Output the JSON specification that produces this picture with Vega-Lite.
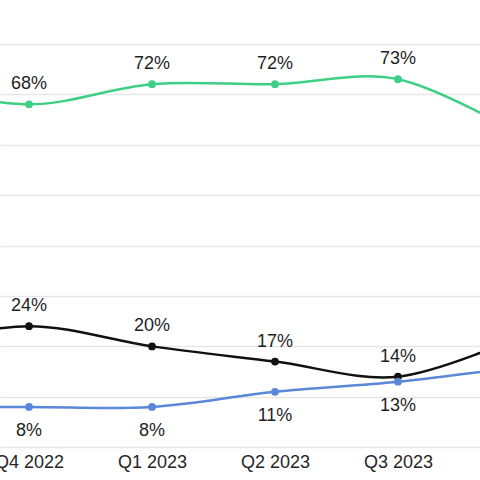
{
  "$schema": "https://vega.github.io/schema/vega-lite/v6.json",
  "width": 480,
  "height": 480,
  "autosize": "none",
  "padding": 0,
  "background": "white",
  "config": {"view": {"stroke": null}, "font": "Liberation Sans"},
  "data": {"values": [
    {"i": 0, "quarter": "Q3 2022", "series": "A", "v": 0.72},
    {"i": 1, "quarter": "Q4 2022", "series": "A", "v": 0.68},
    {"i": 2, "quarter": "Q1 2023", "series": "A", "v": 0.72},
    {"i": 3, "quarter": "Q2 2023", "series": "A", "v": 0.72},
    {"i": 4, "quarter": "Q3 2023", "series": "A", "v": 0.73},
    {"i": 5, "quarter": "Q4 2023", "series": "A", "v": 0.62},
    {"i": 0, "quarter": "Q3 2022", "series": "B", "v": 0.20},
    {"i": 1, "quarter": "Q4 2022", "series": "B", "v": 0.24},
    {"i": 2, "quarter": "Q1 2023", "series": "B", "v": 0.20},
    {"i": 3, "quarter": "Q2 2023", "series": "B", "v": 0.17},
    {"i": 4, "quarter": "Q3 2023", "series": "B", "v": 0.14},
    {"i": 5, "quarter": "Q4 2023", "series": "B", "v": 0.22},
    {"i": 0, "quarter": "Q3 2022", "series": "C", "v": 0.08},
    {"i": 1, "quarter": "Q4 2022", "series": "C", "v": 0.08},
    {"i": 2, "quarter": "Q1 2023", "series": "C", "v": 0.08},
    {"i": 3, "quarter": "Q2 2023", "series": "C", "v": 0.11},
    {"i": 4, "quarter": "Q3 2023", "series": "C", "v": 0.13},
    {"i": 5, "quarter": "Q4 2023", "series": "C", "v": 0.16}
  ]},
  "encoding": {
    "x": {"field": "i", "type": "quantitative",
      "scale": {"domain": [0.764, 4.667], "nice": false, "zero": false},
      "axis": {"values": [1, 2, 3, 4], "offset": -33, "orient": "bottom", "title": null,
        "labelExpr": "['Q3 2022','Q4 2022','Q1 2023','Q2 2023','Q3 2023','Q4 2023'][datum.value]",
        "labelFontSize": 18, "labelColor": "#262626", "labelPadding": 6, "labelFlush": false,
        "labelOverlap": false, "labelBound": false,
        "domain": false, "ticks": false, "grid": false}},
    "y": {"field": "v", "type": "quantitative",
      "scale": {"domain": [-0.065, 0.887], "nice": false, "zero": false},
      "axis": {"values": [0, 0.1, 0.2, 0.3, 0.4, 0.5, 0.6, 0.7, 0.8], "labels": false, "ticks": false,
        "domain": false, "title": null, "grid": true, "gridColor": "#e6e6e6", "gridWidth": 1.5}},
    "color": {"field": "series", "type": "nominal", "legend": null,
      "scale": {"domain": ["A", "B", "C"], "range": ["#3dcf84", "#111111", "#5b87d8"]}}
  },
  "layer": [
    {"mark": {"type": "line", "interpolate": "cardinal", "strokeWidth": 2.5, "clip": true}},
    {"mark": {"type": "point", "filled": true, "size": 60, "opacity": 1, "clip": true}},
    {"transform": [{"filter": "datum.series != 'C' && datum.i >= 1 && datum.i <= 4"}],
      "mark": {"type": "text", "dy": -20, "fontSize": 18, "clip": true},
      "encoding": {"text": {"field": "v", "type": "quantitative", "format": ".0%"}, "color": {"value": "#1f1f1f"}}},
    {"transform": [{"filter": "datum.series == 'C' && datum.i >= 1 && datum.i <= 4"}],
      "mark": {"type": "text", "dy": 24, "fontSize": 18, "clip": true},
      "encoding": {"text": {"field": "v", "type": "quantitative", "format": ".0%"}, "color": {"value": "#1f1f1f"}}}
  ]
}
